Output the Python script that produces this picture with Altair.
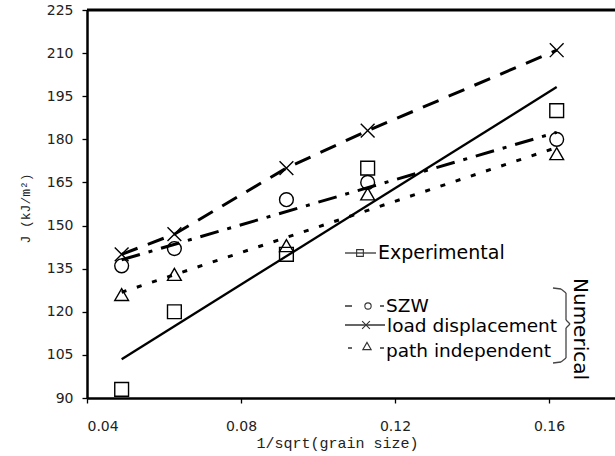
import altair as alt
import pandas as pd

# ---------------- data ----------------
x_vals = [0.049, 0.0627, 0.0918, 0.1129, 0.162]
experimental = [93, 120, 140, 170, 190]
szw = [136, 142, 159, 165, 180]
load_disp = [140, 147, 170, 183, 211]
path_indep = [126, 133, 143, 161, 175]
series_names = ["Experimental", "SZW", "load displacement", "path independent"]
x_ticks = [0.04, 0.08, 0.12, 0.16]
y_ticks = [90, 105, 120, 135, 150, 165, 180, 195, 210, 225]
x_title = "1/sqrt(grain size)"
y_title = "J (kJ/m²)"
group_label = "Numerical"

rows = []
for name, vals in zip(series_names, [experimental, szw, load_disp, path_indep]):
    for xv, yv in zip(x_vals, vals):
        rows.append({"series": name, "x": xv, "y": yv})
df = pd.DataFrame(rows)

# ---------------- layout ----------------
OX, OY = 87, 10          # plot origin on the page
W, H = 528, 388
PX_PER_004 = 154.0
xscale = alt.Scale(domain=[0.04, 0.04 + W / PX_PER_004 * 0.04], nice=False, zero=False)
yscale = alt.Scale(domain=[90, 225], nice=False, zero=False)

shape_scale = alt.Scale(
    domain=series_names,
    range=["square", "circle", "M-1,-1L1,1M-1,1L1,-1", "triangle-up"],
)

x_axis = alt.Axis(
    values=x_ticks, format=".2f", title=x_title, grid=False,
    tickSize=5, labelPadding=16, titleX=250, titleY=44,
    titleAlign="center", titleBaseline="middle",
    labelFont="DejaVu Sans", labelFontSize=14, titleFont="Liberation Mono",
    titleFontSize=15, titleFontWeight="normal",
    domainColor="black", domainWidth=2.5, tickColor="black", tickWidth=1.3,
    labelColor="#222", titleColor="#222",
)
y_axis = alt.Axis(
    values=y_ticks, title=y_title, grid=False, tickSize=5, labelPadding=9,
    titleX=-62, titleY=198, titleAlign="center", titleBaseline="middle",
    labelFont="DejaVu Sans", labelFontSize=14, titleFont="Liberation Mono",
    titleFontSize=13, titleFontWeight="normal",
    domainColor="black", domainWidth=2.5, tickColor="black", tickWidth=1.3,
    labelColor="#222", titleColor="#222",
)

X = alt.X("x:Q", scale=xscale, axis=x_axis)
Y = alt.Y("y:Q", scale=yscale, axis=y_axis)

base = alt.Chart(df)


def sub(name):
    return base.transform_filter(alt.datum.series == name)


exp_line = sub("Experimental").transform_regression("x", "y").mark_line(
    color="black", strokeWidth=2.3
).encode(x=X, y=Y)

szw_line = sub("SZW").transform_regression("x", "y").mark_line(
    color="black", strokeWidth=3, strokeDash=[19, 9, 4, 9]
).encode(x=X, y=Y)

path_line = sub("path independent").transform_regression("x", "y").mark_line(
    color="black", strokeWidth=3, strokeDash=[5, 11]
).encode(x=X, y=Y)

load_line = sub("load displacement").mark_line(
    color="black", strokeWidth=3, strokeDash=[17, 11]
).encode(x=X, y=Y)

points = base.mark_point(filled=False, color="black", size=190, strokeWidth=1.4, opacity=1).encode(
    x=X, y=Y,
    shape=alt.Shape("series:N", scale=shape_scale, legend=None),
)

one = pd.DataFrame({"k": [0]})


def seg(x1, y1, x2, y2, width=1.5, color="black", dash=None):
    kw = dict(color=color, strokeWidth=width)
    if dash is not None:
        kw["strokeDash"] = dash
    return alt.Chart(one).mark_rule(**kw).encode(
        x=alt.value(x1 - OX), y=alt.value(y1 - OY),
        x2=alt.value(x2 - OX), y2=alt.value(y2 - OY),
    )


def sym(x, y, shape, size, width=1.1, color="#333"):
    return alt.Chart(one).mark_point(
        shape=shape, size=size, filled=False, color=color, strokeWidth=width, opacity=1
    ).encode(x=alt.value(x - OX), y=alt.value(y - OY))


def label(x, y, txt, size=18.5, angle=0, align="left", baseline="alphabetic"):
    return alt.Chart(pd.DataFrame({"t": [txt]})).mark_text(
        font="DejaVu Sans", fontSize=size, align=align, baseline=baseline,
        angle=angle, color="black",
    ).encode(x=alt.value(x - OX), y=alt.value(y - OY), text="t:N")


top_border = alt.Chart(one).mark_rule(color="black", strokeWidth=3).encode(
    x=alt.value(0), x2=alt.value(W), y=alt.value(0)
)

legend_layers = [
    # Experimental
    seg(345, 253, 376, 253, width=1.3, color="#333"),
    sym(360, 253, "square", 45),
    label(378, 258.5, series_names[0], size=19),
    # SZW
    seg(345, 306, 384, 306, width=1.6, color="#333", dash=[7, 28]),
    sym(368, 306, "circle", 40),
    label(386, 311.5, series_names[1]),
    # load displacement
    seg(345, 325, 385, 325, width=1.3, color="#333"),
    sym(366, 325, "M-1,-1L1,1M-1,1L1,-1", 60),
    label(387, 332, series_names[2]),
    # path independent
    seg(348, 348, 384, 348, width=1.6, color="#333", dash=[4, 28]),
    sym(367, 346, "triangle-up", 70),
    label(386, 356.5, series_names[3]),
    # bracket
    seg(553, 288, 561, 289, width=1.3, color="#444"),
    seg(561, 289, 566, 293, width=1.3, color="#444"),
    seg(566, 293, 566, 320, width=1.3, color="#444"),
    seg(566, 320, 570, 324, width=1.3, color="#444"),
    seg(570, 324, 566, 328, width=1.3, color="#444"),
    seg(566, 328, 566, 358, width=1.3, color="#444"),
    seg(566, 358, 561, 362, width=1.3, color="#444"),
    seg(561, 362, 553, 363, width=1.3, color="#444"),
    label(580, 329, group_label, size=20, angle=90, align="center", baseline="middle"),
]

chart = alt.layer(
    exp_line, szw_line, path_line, load_line, points, top_border, *legend_layers
).properties(
    width=W,
    height=H,
    autosize=alt.AutoSizeParams(type="none"),
    padding={"left": OX, "top": OY, "right": 0, "bottom": 456 - OY - H},
).configure_view(
    stroke=None
).configure(background="white")

chart.save("out.html", embed_options={"renderer": "svg", "actions": False})
